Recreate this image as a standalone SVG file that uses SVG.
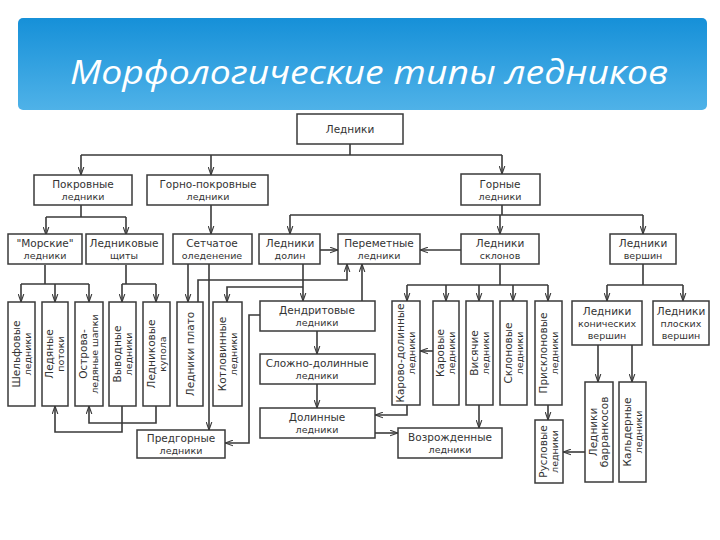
<svg xmlns="http://www.w3.org/2000/svg" width="720" height="540" viewBox="0 0 720 540">
<defs>
<linearGradient id="bg" x1="0" y1="0" x2="0" y2="1">
<stop offset="0" stop-color="#1690d8"/>
<stop offset="1" stop-color="#4fb2e8"/>
</linearGradient>
<marker id="ah" viewBox="0 0 10 8" refX="10" refY="4" markerWidth="8" markerHeight="7" markerUnits="userSpaceOnUse" orient="auto">
<path d="M0,0.5 L10,4 L0,7.5" fill="none" stroke="#3a3a3a" stroke-width="1.4"/>
</marker>
<style>
.box{fill:#fff;stroke:#3a3a3a;stroke-width:1.5}
.t{font-family:"DejaVu Sans","Liberation Sans",sans-serif;font-size:10.5px;fill:#333;text-anchor:middle}
.s{font-size:9.5px}
.c{fill:none;stroke:#3a3a3a;stroke-width:1.6}
.a{fill:none;stroke:#3a3a3a;stroke-width:1.6;marker-end:url(#ah)}
</style>
</defs>
<rect width="720" height="540" fill="#fff"/>
<g id="title">
<rect x="18" y="18" width="689" height="92" rx="5" fill="url(#bg)"/>
<text x="70" y="84" font-family="'Open Sans','Noto Sans',sans-serif" font-style="italic" font-size="32" fill="#fff" textLength="598" lengthAdjust="spacingAndGlyphs">Морфологические типы ледников</text>
</g>
<g id="connectors">
<path class="c" d="M350,144 V155 M81,155 H502"/>
<path class="a" d="M81,155 V175"/>
<path class="a" d="M211,155 V175"/>
<path class="a" d="M502,155 V174"/>
<path class="c" d="M81,205 V217 M46,217 H126"/>
<path class="a" d="M46,217 V235"/>
<path class="a" d="M126,217 V235"/>
<path class="a" d="M211,205 V234"/>
<path class="c" d="M502,205 V215 M290,215 H643"/>
<path class="a" d="M290,215 V234"/>
<path class="a" d="M500,215 V234"/>
<path class="a" d="M643,215 V234"/>
<path class="a" d="M320,250 H338"/>
<path class="a" d="M461,250 H420"/>
<path class="c" d="M45,265 V284 M21,284 H89"/>
<path class="a" d="M21,284 V302"/>
<path class="a" d="M55,284 V302"/>
<path class="a" d="M89,284 V302"/>
<path class="c" d="M126,265 V284 M122,284 H156"/>
<path class="a" d="M122,284 V302"/>
<path class="a" d="M156,284 V302"/>
<path class="a" d="M188,264 V302"/>
<path class="a" d="M209,264 V430"/>
<path class="a" d="M198,302 V280 H347 V264"/>
<path class="a" d="M303,264 V301"/>
<path class="a" d="M303,287 H227 V302"/>
<path class="a" d="M362,301 V264"/>
<path class="a" d="M260,315 H249 V443 H225"/>
<path class="a" d="M317,331 V354"/>
<path class="a" d="M317,384 V408"/>
<path class="a" d="M407,405 V415 H375"/>
<path class="a" d="M375,433 H398"/>
<path class="a" d="M433,351 H420"/>
<path class="a" d="M479,405 V428"/>
<path class="c" d="M500,264 V285 M407,285 H548"/>
<path class="a" d="M407,285 V301"/>
<path class="a" d="M446,285 V301"/>
<path class="a" d="M479,285 V301"/>
<path class="a" d="M513,285 V301"/>
<path class="a" d="M548,285 V301"/>
<path class="a" d="M548,405 V420"/>
<path class="c" d="M643,264 V285 M607,285 H683"/>
<path class="a" d="M607,285 V301"/>
<path class="a" d="M683,285 V301"/>
<path class="a" d="M598,345 V382"/>
<path class="a" d="M632,345 V382"/>
<path class="a" d="M585,452 H563"/>
<path class="a" d="M122,406 V432 H55 V406"/>
<path class="a" d="M156,406 V423 H89 V406"/>
</g>
<g id="n_ledniki"><rect class="box" x="297" y="114" width="106" height="30"/><text class="t" x="350" y="133">Ледники</text></g>
<g id="n_pokrov"><rect class="box" x="34" y="175" width="98" height="30"/><text class="t" x="83" y="188">Покровные</text><text class="t s" x="83" y="200">ледники</text></g>
<g id="n_gornopokr"><rect class="box" x="147" y="175" width="121" height="30"/><text class="t" x="208" y="188">Горно-покровные</text><text class="t s" x="208" y="200">ледники</text></g>
<g id="n_gornye"><rect class="box" x="461" y="174" width="79" height="31"/><text class="t" x="500" y="188">Горные</text><text class="t s" x="500" y="200">ледники</text></g>
<g id="n_morskie"><rect class="box" x="8" y="234" width="74" height="30"/><text class="t" x="45" y="247">"Морские"</text><text class="t s" x="45" y="259">ледники</text></g>
<g id="n_shity"><rect class="box" x="86" y="234" width="77" height="30"/><text class="t" x="124" y="247">Ледниковые</text><text class="t s" x="124" y="259">щиты</text></g>
<g id="n_setch"><rect class="box" x="173" y="234" width="79" height="30"/><text class="t" x="212" y="247">Сетчатое</text><text class="t s" x="212" y="259">оледенение</text></g>
<g id="n_doliny"><rect class="box" x="259" y="234" width="61" height="30"/><text class="t" x="290" y="247">Ледники</text><text class="t s" x="290" y="259">долин</text></g>
<g id="n_peremet"><rect class="box" x="338" y="234" width="82" height="30"/><text class="t" x="379" y="247">Переметные</text><text class="t s" x="379" y="259">ледники</text></g>
<g id="n_sklony"><rect class="box" x="461" y="234" width="78" height="30"/><text class="t" x="500" y="247">Ледники</text><text class="t s" x="500" y="259">склонов</text></g>
<g id="n_vershiny"><rect class="box" x="610" y="234" width="66" height="30"/><text class="t" x="643" y="247">Ледники</text><text class="t s" x="643" y="259">вершин</text></g>
<g id="n_shelf"><rect class="box" x="8" y="302" width="27" height="104"/><g transform="translate(21.5,354) rotate(-90)"><text class="t" x="0" y="-2">Шельфовые</text><text class="t s" x="0" y="9">ледники</text></g></g>
<g id="n_potoki"><rect class="box" x="42" y="302" width="26" height="104"/><g transform="translate(55,354) rotate(-90)"><text class="t" x="0" y="-2">Ледяные</text><text class="t s" x="0" y="9">потоки</text></g></g>
<g id="n_ostrova"><rect class="box" x="75" y="302" width="28" height="104"/><g transform="translate(89,354) rotate(-90)"><text class="t" x="0" y="-2">Острова-</text><text class="t s" x="0" y="9">ледяные шапки</text></g></g>
<g id="n_vyvod"><rect class="box" x="109" y="302" width="27" height="104"/><g transform="translate(122.5,354) rotate(-90)"><text class="t" x="0" y="-2">Выводные</text><text class="t s" x="0" y="9">ледники</text></g></g>
<g id="n_kupola"><rect class="box" x="143" y="302" width="27" height="104"/><g transform="translate(156.5,354) rotate(-90)"><text class="t" x="0" y="-2">Ледниковые</text><text class="t s" x="0" y="9">купола</text></g></g>
<g id="n_plato"><rect class="box" x="177" y="302" width="26" height="104"/><g transform="translate(190,354) rotate(-90)"><text class="t" x="0" y="4">Ледники плато</text></g></g>
<g id="n_kotlov"><rect class="box" x="213" y="302" width="29" height="104"/><g transform="translate(227.5,354) rotate(-90)"><text class="t" x="0" y="-2">Котловинные</text><text class="t s" x="0" y="9">ледники</text></g></g>
<g id="n_dendr"><rect class="box" x="260" y="301" width="115" height="30"/><text class="t" x="317" y="314">Дендритовые</text><text class="t s" x="317" y="326">ледники</text></g>
<g id="n_slozhno"><rect class="box" x="260" y="354" width="115" height="30"/><text class="t" x="317" y="367">Сложно-долинные</text><text class="t s" x="317" y="379">ледники</text></g>
<g id="n_dolinnye"><rect class="box" x="260" y="408" width="115" height="30"/><text class="t" x="317" y="421">Долинные</text><text class="t s" x="317" y="433">ледники</text></g>
<g id="n_predgor"><rect class="box" x="137" y="430" width="88" height="28"/><text class="t" x="181" y="442">Предгорные</text><text class="t s" x="181" y="454">ледники</text></g>
<g id="n_vozrozh"><rect class="box" x="398" y="428" width="104" height="30"/><text class="t" x="450" y="441">Возрожденные</text><text class="t s" x="450" y="453">ледники</text></g>
<g id="n_karovodol"><rect class="box" x="392" y="301" width="28" height="104"/><g transform="translate(406,353) rotate(-90)"><text class="t" x="0" y="-2">Карово-долинные</text><text class="t s" x="0" y="9">ледники</text></g></g>
<g id="n_karovye"><rect class="box" x="433" y="301" width="26" height="104"/><g transform="translate(446,353) rotate(-90)"><text class="t" x="0" y="-2">Каровые</text><text class="t s" x="0" y="9">ледники</text></g></g>
<g id="n_visyachie"><rect class="box" x="466" y="301" width="27" height="104"/><g transform="translate(479.5,353) rotate(-90)"><text class="t" x="0" y="-2">Висячие</text><text class="t s" x="0" y="9">ледники</text></g></g>
<g id="n_sklonovye"><rect class="box" x="500" y="301" width="27" height="104"/><g transform="translate(513.5,353) rotate(-90)"><text class="t" x="0" y="-2">Склоновые</text><text class="t s" x="0" y="9">ледники</text></g></g>
<g id="n_prisklon"><rect class="box" x="535" y="301" width="27" height="104"/><g transform="translate(548.5,353) rotate(-90)"><text class="t" x="0" y="-2">Присклоновые</text><text class="t s" x="0" y="9">ледники</text></g></g>
<g id="n_ruslovye"><rect class="box" x="535" y="420" width="28" height="63"/><g transform="translate(549,451.5) rotate(-90)"><text class="t" x="0" y="-2">Русловые</text><text class="t s" x="0" y="9">ледники</text></g></g>
<g id="n_konich"><rect class="box" x="572" y="301" width="70" height="44"/><text class="t" x="607" y="315">Ледники</text><text class="t s" x="607" y="327">конических</text><text class="t s" x="607" y="339">вершин</text></g>
<g id="n_ploskih"><rect class="box" x="653" y="301" width="56" height="44"/><text class="t" x="681" y="315">Ледники</text><text class="t s" x="681" y="327">плоских</text><text class="t s" x="681" y="339">вершин</text></g>
<g id="n_barrank"><rect class="box" x="585" y="382" width="28" height="100"/><g transform="translate(599,432) rotate(-90)"><text class="t" x="0" y="-2">Ледники</text><text class="t" x="0" y="9">барранкосов</text></g></g>
<g id="n_kalder"><rect class="box" x="619" y="382" width="27" height="100"/><g transform="translate(632.5,432) rotate(-90)"><text class="t" x="0" y="-2">Кальдерные</text><text class="t s" x="0" y="9">ледники</text></g></g>
</svg>
